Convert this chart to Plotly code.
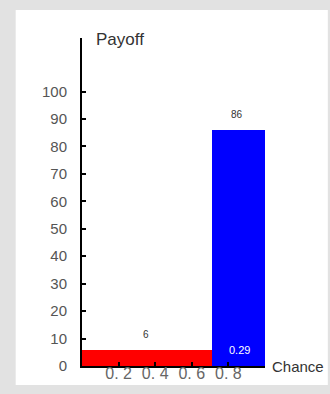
import plotly.graph_objects as go

# Data
chances = [0.71, 0.29]
payoffs = [6, 86]
colors = ["#ff0000", "#0000ff"]
x_tick_vals = [0.2, 0.4, 0.6, 0.8]
x_tick_text = ["0. 2", "0. 4", "0. 6", "0. 8"]
y_tick_vals = [0, 10, 20, 30, 40, 50, 60, 70, 80, 90, 100]

starts = []
acc = 0.0
for c in chances:
    starts.append(acc)
    acc += c
centers = [s + c / 2 for s, c in zip(starts, chances)]

W, H = 330, 394
L, R, T, B = 81.5, 65, 38, 28
pw, ph = W - L - R, H - T - B

def px(x):
    return (x - L) / pw

def py(y):
    return (H - B - y) / ph

fig = go.Figure()
fig.add_trace(go.Bar(
    x=centers, y=payoffs, width=chances,
    marker=dict(color=colors, line=dict(width=0)),
    hoverinfo="skip",
))

annotations = []
for cx, p in zip(centers, payoffs):
    annotations.append(dict(
        x=cx, y=p, xref="x", yref="y", text=str(p), showarrow=False,
        yanchor="bottom", yshift=8, xshift=-1,
        font=dict(family="Liberation Sans", size=10, color="#333333"),
    ))
# width label inside the last (blue) bar
annotations.append(dict(
    x=centers[1], y=0, xref="x", yref="y", text=str(chances[1]), showarrow=False,
    yanchor="bottom", yshift=8, xshift=1,
    font=dict(family="Liberation Sans", size=11, color="#ffffff"),
))
annotations.append(dict(
    x=px(94), y=py(39), xref="paper", yref="paper", text="Payoff", showarrow=False,
    xanchor="left", yanchor="middle",
    font=dict(family="Liberation Sans", size=17, color="#333333"),
))
annotations.append(dict(
    x=px(270), y=py(367), xref="paper", yref="paper", text="Chance", showarrow=False,
    xanchor="left", yanchor="middle",
    font=dict(family="Liberation Sans", size=15, color="#333333"),
))

shapes = [dict(
    type="rect", xref="paper", yref="paper", layer="below",
    x0=px(15), x1=px(328), y0=py(385), y1=py(10),
    fillcolor="#ffffff", line=dict(width=0),
)]

fig.update_layout(
    width=W, height=H,
    margin=dict(l=L, r=R, t=T, b=B, pad=0, autoexpand=False),
    paper_bgcolor="#e2e2e2",
    plot_bgcolor="rgba(0,0,0,0)",
    showlegend=False,
    bargap=0,
    annotations=annotations,
    shapes=shapes,
    xaxis=dict(
        range=[0, 1], showgrid=False, zeroline=False, automargin=False,
        showline=True, linecolor="#000000", linewidth=2,
        ticks="inside", ticklen=4, tickwidth=2, tickcolor="#000000",
        tickvals=x_tick_vals, ticktext=x_tick_text,
        tickfont=dict(family="Liberation Sans", size=16, color="#666666"),
        ticklabelstandoff=-8,
        fixedrange=True,
    ),
    yaxis=dict(
        range=[0, 119.5], showgrid=False, zeroline=False, automargin=False,
        showline=True, linecolor="#000000", linewidth=2,
        ticks="inside", ticklen=4, tickwidth=2, tickcolor="#000000",
        tickvals=y_tick_vals,
        tickfont=dict(family="Liberation Sans", size=15, color="#555555"),
        ticklabelstandoff=10,
        fixedrange=True,
    ),
)

fig.write_html(
    "out.html",
    config={"displayModeBar": False},
    post_script="document.body.style.margin='0';document.body.style.overflow='hidden';",
)
